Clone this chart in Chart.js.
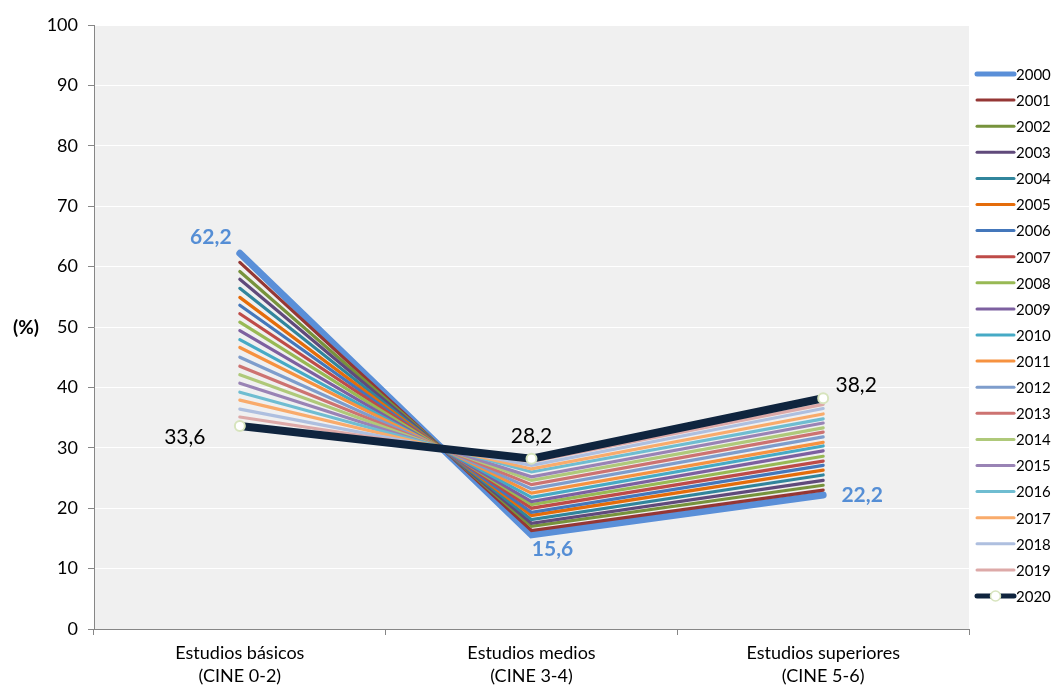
<!DOCTYPE html>
<html lang="es">
<head>
<meta charset="utf-8">
<title>Nivel de estudios 2000-2020</title>
<script src="https://cdn.jsdelivr.net/npm/chart.js@4/dist/chart.umd.min.js"></script>
<style>
  html, body { margin: 0; padding: 0; background: #ffffff; }
  #wrap { width: 1054px; height: 691px; }
</style>
</head>
<body>
<div id="wrap"><canvas id="chart" width="1054" height="691"></canvas></div>
<script>
// Categories (education level) and one series per year
const categories = [
  ["Estudios básicos", "(CINE 0-2)"],
  ["Estudios medios", "(CINE 3-4)"],
  ["Estudios superiores", "(CINE 5-6)"]
];
const years = ["2000","2001","2002","2003","2004","2005","2006","2007","2008","2009","2010",
               "2011","2012","2013","2014","2015","2016","2017","2018","2019","2020"];
const basicos     = [62.2,60.7,59.2,57.9,56.4,54.9,53.6,52.2,50.8,49.4,47.9,46.6,45.0,43.5,42.1,40.7,39.2,37.9,36.4,35.1,33.6];
const medios      = [15.6,16.3,17.0,17.5,18.1,18.8,19.3,20.0,20.6,21.1,21.8,22.5,23.2,23.9,24.6,25.2,26.0,26.5,27.1,27.7,28.2];
const superiores  = [22.2,23.0,23.8,24.6,25.5,26.3,27.1,27.8,28.6,29.5,30.3,30.9,31.8,32.6,33.3,34.1,34.8,35.6,36.5,37.2,38.2];
const yTickStep = 10;
const yMax = 100;

const colors = ["#5A8FD8","#953735","#77933C","#604A7B","#31859C","#E46C0A","#4477BB","#BE4B48",
                "#98B954","#7D60A0","#46AAC5","#F69240","#7E9DCC","#CD7371","#AFC97A","#9983B5",
                "#6FBDD1","#F9AB6B","#AEBFDF","#DDA9A8","#0F243E"];

const FONT = "Lato, 'Open Sans', 'DejaVu Sans', sans-serif";
const last = years.length - 1;

const datasets = years.map((y, i) => {
  const isFirst = i === 0, isLast = i === last;
  return {
    label: y,
    data: [basicos[i], medios[i], superiores[i]],
    borderColor: colors[i],
    backgroundColor: colors[i],
    borderWidth: isFirst ? 7 : (isLast ? 8 : 3.2),
    borderCapStyle: "round",
    borderJoinStyle: "miter",
    tension: 0,
    fill: false,
    order: last - i,
    pointRadius: isLast ? 5 : 0,
    pointHoverRadius: isLast ? 5 : 0,
    pointBackgroundColor: "#ffffff",
    pointBorderColor: "#D7E4BD",
    pointBorderWidth: 2
  };
});

// Grey plotting area behind the grid
const plotBackground = {
  id: "plotBackground",
  beforeDraw(chart) {
    const { ctx, chartArea: a } = chart;
    ctx.save();
    ctx.fillStyle = "#F0F0F0";
    ctx.fillRect(a.left, a.top, a.right - a.left, a.bottom - a.top);
    ctx.restore();
  }
};

// Value labels for the first and last year
const valueLabels = {
  id: "valueLabels",
  afterDatasetsDraw(chart) {
    const { ctx } = chart;
    const specs = [
      { ds: 0, color: "#558ED5", weight: "bold", offsets: [[-29, -16], [21, 14], [39, 0]] },
      { ds: last, color: "#000000", weight: "normal", offsets: [[-55, 11], [0, -22], [33, -13]] }
    ];
    ctx.save();
    ctx.textAlign = "center";
    ctx.textBaseline = "middle";
    specs.forEach(s => {
      const meta = chart.getDatasetMeta(s.ds);
      const values = chart.data.datasets[s.ds].data;
      ctx.font = s.weight + " 21px " + FONT;
      ctx.fillStyle = s.color;
      meta.data.forEach((pt, k) => {
        const txt = values[k].toFixed(1).replace(".", ",");
        ctx.fillText(txt, pt.x + s.offsets[k][0], pt.y + s.offsets[k][1]);
      });
    });
    ctx.restore();
  }
};

// Horizontal unit label at the left of the value axis
const unitLabel = {
  id: "unitLabel",
  afterDraw(chart) {
    const { ctx } = chart;
    const ys = chart.scales.y;
    ctx.save();
    ctx.font = "bold 19px " + FONT;
    ctx.fillStyle = "#000000";
    ctx.textAlign = "center";
    ctx.textBaseline = "middle";
    ctx.fillText("(%)", 26, ys.getPixelForValue(50) + 1);
    ctx.restore();
  }
};

// Year legend on the right
const yearLegend = {
  id: "yearLegend",
  afterDraw(chart) {
    const { ctx } = chart;
    const x0 = 977, x1 = 1014, top = 74, step = 26.1;
    ctx.save();
    ctx.font = "15px " + FONT;
    ctx.textAlign = "left";
    ctx.textBaseline = "middle";
    chart.data.datasets.forEach((ds, i) => {
      const y = top + i * step;
      ctx.strokeStyle = ds.borderColor;
      ctx.lineWidth = i === 0 || i === last ? 5 : 3;
      ctx.lineCap = "round";
      ctx.beginPath();
      ctx.moveTo(x0, y);
      ctx.lineTo(x1, y);
      ctx.stroke();
      if (i === last) {
        ctx.beginPath();
        ctx.arc((x0 + x1) / 2, y, 5, 0, Math.PI * 2);
        ctx.fillStyle = ds.pointBackgroundColor;
        ctx.fill();
        ctx.lineWidth = 1.5;
        ctx.strokeStyle = ds.pointBorderColor;
        ctx.stroke();
      }
      ctx.fillStyle = "#000000";
      ctx.fillText(ds.label, 1016, y + 1);
    });
    ctx.restore();
  }
};

new Chart(document.getElementById("chart"), {
  type: "line",
  data: { labels: categories, datasets },
  plugins: [plotBackground, valueLabels, unitLabel, yearLegend],
  options: {
    responsive: false,
    animation: false,
    events: [],
    layout: { padding: { top: 25, right: 85, left: 0, bottom: 0 } },
    plugins: { legend: { display: false }, tooltip: { enabled: false } },
    scales: {
      x: {
        type: "category",
        offset: true,
        grid: {
          offset: true,
          drawOnChartArea: false,
          tickLength: 6,
          tickColor: "#868686"
        },
        border: { color: "#868686", width: 1 },
        ticks: {
          color: "#000000",
          font: { family: FONT, size: 18, lineHeight: 1.3 },
          padding: 6,
          maxRotation: 0,
          autoSkip: false
        },
        afterFit(scale) { scale.height = 62; }
      },
      y: {
        min: 0,
        max: yMax,
        grid: {
          color: "#FFFFFF",
          lineWidth: 1,
          tickLength: 6,
          tickColor: "#868686"
        },
        border: { color: "#868686", width: 1 },
        ticks: {
          stepSize: yTickStep,
          color: "#000000",
          font: { family: FONT, size: 18 },
          padding: 10
        },
        afterFit(scale) { scale.width = 94; }
      }
    }
  }
});
</script>
</body>
</html>
